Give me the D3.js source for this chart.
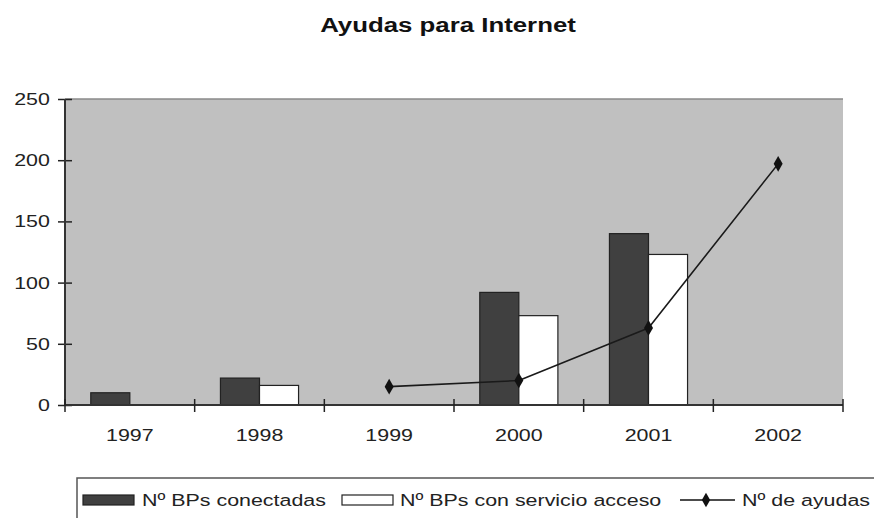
<!DOCTYPE html>
<html>
<head>
<meta charset="utf-8">
<script src="https://cdn.jsdelivr.net/npm/d3@7"></script>
<style>
  body { margin: 0; background: #fff; }
  svg { display: block; font-family: "Liberation Sans", Arial, sans-serif; }
</style>
</head>
<body>
<div id="chart"></div>
<script>
// data
const years = ["1997", "1998", "1999", "2000", "2001", "2002"];
const conectadas = [10, 22, null, 92, 140, null];
const acceso = [null, 16, null, 73, 123, null];
const ayudas = [null, null, 15, 20, 63, 197];
const yTicks = [0, 50, 100, 150, 200, 250];
const seriesNames = ["Nº BPs conectadas", "Nº BPs con servicio acceso", "Nº de ayudas"];

const W = 874, H = 518;
const plot = {left: 65, right: 843, top: 99, bottom: 405};
const sx = 1.26; // the original is stretched sideways

const svg = d3.select("#chart").append("svg")
    .attr("width", W).attr("height", H);

const x = d3.scaleBand().domain(years).range([plot.left, plot.right]).padding(0);
const x1 = d3.scaleBand().domain(["c", "a"]).range([0, x.bandwidth()]).paddingInner(0).paddingOuter(0.66);
const y = d3.scaleLinear().domain([0, 250]).range([plot.bottom, plot.top]);

// title
svg.append("text")
    .attr("transform", `translate(448,32) scale(${sx},1)`)
    .attr("text-anchor", "middle")
    .style("font-weight", "bold")
    .style("font-size", "20.5px")
    .attr("fill", "#111")
    .text("Ayudas para Internet");

// plot area
svg.append("rect")
    .attr("x", plot.left).attr("y", plot.top)
    .attr("width", plot.right - plot.left).attr("height", plot.bottom - plot.top)
    .attr("fill", "#c0c0c0");
svg.append("line")
    .attr("x1", plot.left).attr("x2", plot.right)
    .attr("y1", plot.top).attr("y2", plot.top)
    .attr("stroke", "#8a8a8a").attr("stroke-width", 1.5);

// bars
const barData = [];
years.forEach((yr, i) => {
    if (conectadas[i] != null) barData.push({yr, k: "c", v: conectadas[i]});
    if (acceso[i] != null) barData.push({yr, k: "a", v: acceso[i]});
});
svg.append("g").selectAll("rect")
    .data(barData)
    .enter().append("rect")
    .attr("x", d => x(d.yr) + x1(d.k))
    .attr("y", d => y(d.v))
    .attr("width", x1.bandwidth())
    .attr("height", d => y(0) - y(d.v))
    .attr("fill", d => d.k === "c" ? "#404040" : "#ffffff")
    .attr("stroke", "#222")
    .attr("stroke-width", 1.2);

// line
const pts = years.map((yr, i) => ({yr, v: ayudas[i]})).filter(d => d.v != null);
const line = d3.line()
    .x(d => x(d.yr) + x.bandwidth() / 2)
    .y(d => y(d.v));
svg.append("path")
    .datum(pts)
    .attr("d", line)
    .attr("fill", "none")
    .attr("stroke", "#1a1a1a")
    .attr("stroke-width", 1.6)
    .attr("stroke-linejoin", "round");
svg.append("g").selectAll("path")
    .data(pts)
    .enter().append("path")
    .attr("transform", d => `translate(${x(d.yr) + x.bandwidth() / 2},${y(d.v)})`)
    .attr("d", d3.symbol(d3.symbolDiamond, 70))
    .attr("fill", "#111");

// y axis
const yAxis = svg.append("g")
    .attr("transform", `translate(${plot.left},0)`)
    .call(d3.axisLeft(y).tickValues(yTicks).tickSize(7).tickPadding(5));
yAxis.select(".domain").remove();
yAxis.selectAll(".tick line").attr("x1", 7).attr("stroke", "#222").attr("stroke-width", 1.5);
yAxis.selectAll(".tick text")
    .attr("transform", `scale(${sx},1)`)
    .style("font-size", "17px").attr("fill", "#222");
yAxis.append("line")
    .attr("y1", plot.top).attr("y2", plot.bottom + 1)
    .attr("stroke", "#333").attr("stroke-width", 2);

// x axis: labels at centres, ticks at category edges
const xAxis = svg.append("g")
    .attr("transform", `translate(0,${plot.bottom})`)
    .call(d3.axisBottom(x).tickSize(0).tickPadding(24));
xAxis.select(".domain").remove();
xAxis.selectAll(".tick text")
    .attr("transform", `scale(${sx},1)`)
    .style("font-size", "17px").attr("fill", "#222");
xAxis.append("line")
    .attr("x1", plot.left).attr("x2", plot.right)
    .attr("stroke", "#333").attr("stroke-width", 2);
xAxis.selectAll(".edge")
    .data(years.map(d => x(d)).concat([plot.right]))
    .enter().append("line")
    .attr("class", "edge")
    .attr("x1", d => d).attr("x2", d => d)
    .attr("y1", -6).attr("y2", 7)
    .attr("stroke", "#222").attr("stroke-width", 1.5);

// legend
const lg = svg.append("g");
lg.append("rect")
    .attr("x", 77).attr("y", 478).attr("width", 830).attr("height", 60)
    .attr("fill", "#fff").attr("stroke", "#555").attr("stroke-width", 1.5);
const ly = 500;
const legendItems = [
    {kind: "c", sw: 83, tx: 142},
    {kind: "a", sw: 342, tx: 400},
    {kind: "l", sw: 680, tx: 742}
];
legendItems.forEach((it, i) => {
    if (it.kind === "l") {
        lg.append("line").attr("x1", it.sw).attr("x2", it.sw + 55)
            .attr("y1", ly).attr("y2", ly).attr("stroke", "#111").attr("stroke-width", 1.6);
        lg.append("path").attr("transform", `translate(${it.sw + 26},${ly})`)
            .attr("d", d3.symbol(d3.symbolDiamond, 60)).attr("fill", "#111");
    } else {
        lg.append("rect").attr("x", it.sw).attr("y", ly - 5).attr("width", 51).attr("height", 10)
            .attr("fill", it.kind === "c" ? "#404040" : "#fff")
            .attr("stroke", "#222").attr("stroke-width", 1.2);
    }
    lg.append("text")
        .attr("transform", `translate(${it.tx},${ly + 6}) scale(${sx},1)`)
        .style("font-size", "17px").attr("fill", "#222")
        .text(seriesNames[i]);
});
</script>
</body>
</html>
